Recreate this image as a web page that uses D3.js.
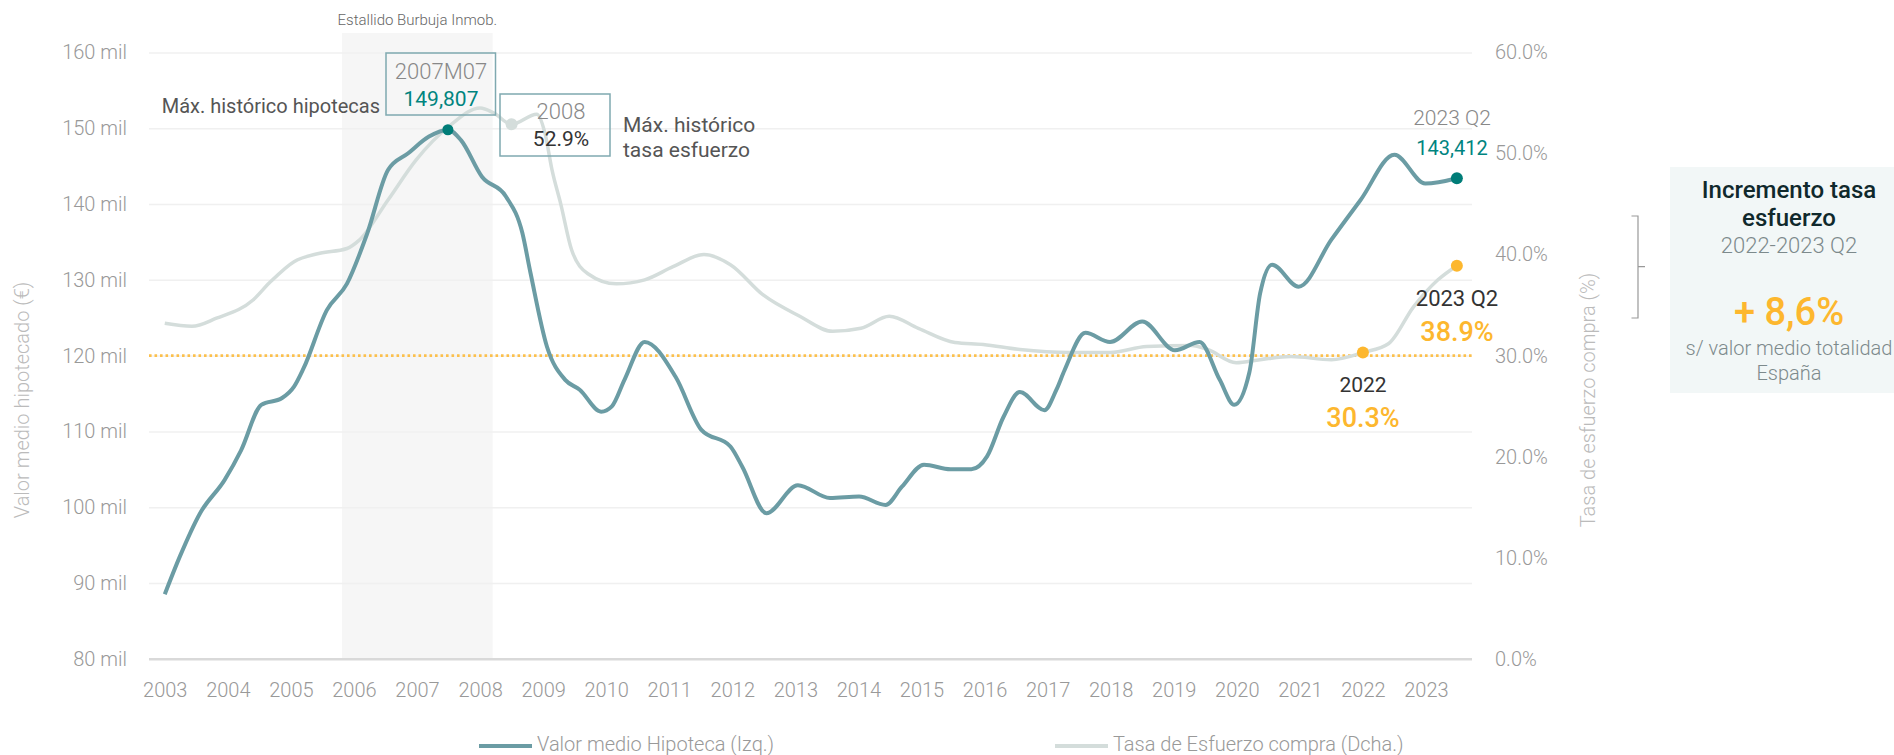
<!DOCTYPE html>
<html>
<head>
<meta charset="utf-8">
<script src="https://cdn.jsdelivr.net/npm/d3@7"></script>
<style>
body { margin: 0; background: #fff; }
text { font-family: Roboto, "DejaVu Sans", sans-serif; }
.light { font-weight: 300; }
</style>
</head>
<body>
<script>
// datos (anos decimales)
var anosHip = [2003.0, 2003.24, 2003.56, 2003.95, 2004.21, 2004.53, 2004.86, 2005.05, 2005.2, 2005.57,
  2005.89, 2006.21, 2006.54, 2006.86, 2007.19, 2007.49, 2007.7, 2008.03, 2008.41, 2008.67,
  2008.8, 2009.06, 2009.35, 2009.58, 2009.92, 2010.09, 2010.29, 2010.61, 2011.1, 2011.51,
  2011.97, 2012.16, 2012.54, 2013.04, 2013.55, 2014.01, 2014.43, 2014.69, 2015.04, 2015.46,
  2015.79, 2016.04, 2016.3, 2016.56, 2016.95, 2017.14, 2017.27, 2017.6, 2017.99, 2018.5,
  2019.02, 2019.41, 2019.73, 2019.96, 2020.2, 2020.37, 2020.56, 2020.98, 2021.5, 2021.96,
  2022.5, 2022.99, 2023.49]
var valorHipoteca = [88.5, 93.5, 99.2, 103.6, 107.5, 113.5, 114.4, 115.9, 118.3, 126.0,
  129.5, 136.1, 144.5, 146.7, 148.9, 149.807, 148.4, 143.6, 141.0, 136.2,
  130.9, 121.2, 116.8, 115.5, 112.6, 113.3, 116.8, 121.8, 117.2, 110.2,
  108.0, 105.3, 99.2, 102.9, 101.2, 101.4, 100.3, 102.7, 105.6, 105.0,
  105.0, 106.7, 111.9, 115.2, 112.8, 115.5, 118.1, 123.0, 121.8, 124.5,
  120.7, 121.8, 116.8, 113.5, 117.8, 128.2, 132.0, 129.1, 135.3, 140.5,
  146.5, 142.7, 143.412]

var anosTasa = [2003.0, 2003.43, 2003.82, 2004.4, 2004.66, 2005.05, 2005.44, 2005.89, 2006.08, 2006.54,
  2006.99, 2007.51, 2008.0, 2008.22, 2008.5, 2008.9, 2009.03, 2009.14, 2009.28, 2009.45, 2009.71,
  2010.16, 2010.61, 2011.06, 2011.55, 2011.97, 2012.49, 2013.07, 2013.59, 2014.04, 2014.49,
  2014.95, 2015.53, 2015.98, 2016.56, 2017.34, 2017.99, 2018.57, 2019.28, 2019.54, 2019.99,
  2020.37, 2020.86, 2021.5, 2022.0, 2022.41, 2022.8, 2023.19, 2023.49]
var tasaEsfuerzo = [33.2, 32.9, 33.7, 35.5, 37.2, 39.3, 40.1, 40.6, 41.4, 45.4,
  49.4, 52.7, 54.5, 54.0, 52.9, 53.9, 52.0, 48.4, 45.0, 40.5, 38.1,
  37.1, 37.5, 38.8, 40.0, 39.0, 36.0, 33.9, 32.4, 32.7, 33.9,
  32.7, 31.3, 31.1, 30.6, 30.3, 30.3, 30.9, 31.0, 30.6, 29.3,
  29.6, 29.9, 29.6, 30.3, 31.2, 34.8, 37.5, 38.9]

var anosEje = d3.range(2003, 2024)
var ticksIzq = [80, 90, 100, 110, 120, 130, 140, 150, 160]
var ticksDcha = [0, 10, 20, 30, 40, 50, 60]
var burbuja = [2005.81, 2008.2]
var lineaRef = 30
var incrementoTasa = 8.6

var teal = "#6b9ca4", gris = "#d4dddb", amarillo = "#fdb72e", tealOsc = "#007d78"

var svg = d3.select("body").append("svg")
  .attr("width", 1894).attr("height", 755)

var plotLeft = 149, plotRight = 1472, plotTop = 52.5, plotBottom = 658.7

var x = d3.scaleLinear().domain([2002.75, 2023.73]).range([plotLeft, plotRight])
var yIzq = d3.scaleLinear().domain([80, 160]).range([plotBottom, plotTop])
var yDcha = d3.scaleLinear().domain([0, 60]).range([plotBottom, plotTop])

// zona estallido burbuja
svg.append("rect")
  .attr("x", x(burbuja[0])).attr("y", 33)
  .attr("width", x(burbuja[1]) - x(burbuja[0])).attr("height", plotBottom - 33)
  .attr("fill", "#f6f6f6")
svg.append("text").attr("class", "light")
  .attr("x", (x(burbuja[0]) + x(burbuja[1])) / 2).attr("y", 20).attr("dy", "0.35em")
  .attr("text-anchor", "middle").attr("font-size", 15).attr("fill", "#666")
  .text("Estallido Burbuja Inmob.")

// eje izquierdo + rejilla
var gIzq = svg.append("g").attr("transform", "translate(" + plotLeft + ",0)")
  .call(d3.axisLeft(yIzq).tickValues(ticksIzq).tickSize(-(plotRight - plotLeft)).tickPadding(22)
    .tickFormat(function(d) { return d + " mil" }))
gIzq.select(".domain").remove()
gIzq.selectAll(".tick line")
  .attr("stroke", function(d) { return d == 80 ? "#d9d9d9" : "#f0f0f0" })
  .attr("stroke-width", function(d) { return d == 80 ? 2.5 : 1.5 })
gIzq.selectAll(".tick text").attr("class", "light")
  .attr("font-size", 20).attr("fill", "#999").attr("font-family", null)

// eje derecho
var gDcha = svg.append("g").attr("transform", "translate(" + plotRight + ",0)")
  .call(d3.axisRight(yDcha).tickValues(ticksDcha).tickSize(0).tickPadding(23)
    .tickFormat(function(d) { return d.toFixed(1) + "%" }))
gDcha.select(".domain").remove()
gDcha.selectAll(".tick text").attr("class", "light")
  .attr("font-size", 20).attr("fill", "#999").attr("font-family", null)

// eje x
var gX = svg.append("g").attr("transform", "translate(0," + plotBottom + ")")
  .call(d3.axisBottom(x).tickValues(anosEje).tickSize(0).tickPadding(24).tickFormat(d3.format("d")))
gX.select(".domain").remove()
gX.selectAll(".tick text").attr("class", "light")
  .attr("font-size", 20).attr("fill", "#999").attr("font-family", null)

// titulos de ejes
svg.append("text").attr("class", "light")
  .attr("transform", "translate(22,400) rotate(-90)").attr("dy", "0.35em")
  .attr("text-anchor", "middle").attr("font-size", 20).attr("fill", "#bbb")
  .text("Valor medio hipotecado (€)")
svg.append("text").attr("class", "light")
  .attr("transform", "translate(1588,400) rotate(-90)").attr("dy", "0.35em")
  .attr("text-anchor", "middle").attr("font-size", 20).attr("fill", "#bbb")
  .text("Tasa de esfuerzo compra (%)")

// linea de referencia punteada
svg.append("line")
  .attr("x1", plotLeft).attr("x2", plotRight)
  .attr("y1", yDcha(lineaRef)).attr("y2", yDcha(lineaRef))
  .attr("stroke", "#fcc04c").attr("stroke-width", 2.6).attr("stroke-dasharray", "2.6,2.9")

// series
var lineaTasa = d3.line()
  .x(function(d, i) { return x(anosTasa[i]) })
  .y(function(d) { return yDcha(d) })
  .curve(d3.curveMonotoneX)
var lineaHip = d3.line()
  .x(function(d, i) { return x(anosHip[i]) })
  .y(function(d) { return yIzq(d) })
  .curve(d3.curveMonotoneX)

svg.append("path").datum(tasaEsfuerzo)
  .attr("d", lineaTasa).attr("fill", "none").attr("stroke", gris).attr("stroke-width", 3.5)
svg.append("path").datum(valorHipoteca)
  .attr("d", lineaHip).attr("fill", "none").attr("stroke", teal).attr("stroke-width", 4)

// puntos destacados
var iMaxHip = valorHipoteca.indexOf(d3.max(valorHipoteca))
var iMaxTasa = anosTasa.indexOf(2008.5)
var iTasa2022 = anosTasa.indexOf(2022.0)
var nH = valorHipoteca.length - 1, nT = tasaEsfuerzo.length - 1

svg.append("circle").attr("cx", x(anosTasa[iMaxTasa])).attr("cy", yDcha(tasaEsfuerzo[iMaxTasa]))
  .attr("r", 6).attr("fill", gris)
svg.append("circle").attr("cx", x(anosHip[iMaxHip])).attr("cy", yIzq(valorHipoteca[iMaxHip]))
  .attr("r", 5.5).attr("fill", tealOsc)
svg.append("circle").attr("cx", x(anosHip[nH])).attr("cy", yIzq(valorHipoteca[nH]))
  .attr("r", 6).attr("fill", tealOsc)
svg.append("circle").attr("cx", x(anosTasa[iTasa2022])).attr("cy", yDcha(tasaEsfuerzo[iTasa2022]))
  .attr("r", 6).attr("fill", amarillo)
svg.append("circle").attr("cx", x(anosTasa[nT])).attr("cy", yDcha(tasaEsfuerzo[nT]))
  .attr("r", 6).attr("fill", amarillo)

function texto(xp, yp, t, size, color, anchor, weight) {
  return svg.append("text").attr("x", xp).attr("y", yp).attr("dy", "0.35em")
    .attr("text-anchor", anchor || "middle").attr("font-size", size)
    .attr("fill", color).attr("font-weight", weight || 400).text(t)
}

// anotacion maximo hipotecas
svg.append("rect").attr("x", 386).attr("y", 53).attr("width", 109.5).attr("height", 62)
  .attr("fill", "none").attr("stroke", "#7fa9b0").attr("stroke-width", 1.5)
texto(441, 71, "2007M07", 22, "#888", "middle", 300)
texto(441, 99, d3.format(",")(Math.round(valorHipoteca[iMaxHip] * 1000)), 21, "#00847f")
texto(380, 106, "Máx. histórico hipotecas", 20, "#555", "end")

// anotacion maximo tasa
svg.append("rect").attr("x", 500).attr("y", 94).attr("width", 110).attr("height", 62)
  .attr("fill", "none").attr("stroke", "#7fa9b0").attr("stroke-width", 1.5)
texto(561, 111, "2008", 22, "#888", "middle", 300)
texto(561, 139, tasaEsfuerzo[iMaxTasa].toFixed(1) + "%", 21, "#333")
texto(623, 125, "Máx. histórico", 21, "#555", "start")
texto(623, 150, "tasa esfuerzo", 21, "#555", "start")

// anotaciones finales
texto(1452, 118, "2023 Q2", 21, "#888", "middle", 300)
texto(1452, 148, d3.format(",")(Math.round(valorHipoteca[nH] * 1000)), 20, "#00847f")
texto(1457, 298, "2023 Q2", 22, "#333")
texto(1457, 332, tasaEsfuerzo[nT].toFixed(1) + "%", 27, amarillo, "middle", 500)
texto(1363, 385, "2022", 21, "#333")
texto(1363, 418, tasaEsfuerzo[iTasa2022].toFixed(1) + "%", 27, amarillo, "middle", 500)

// llave
svg.append("path")
  .attr("d", "M1631.5,216H1638V318H1631.5M1638,266.7H1645")
  .attr("fill", "none").attr("stroke", "#999").attr("stroke-width", 1.2)

// panel derecho
svg.append("rect").attr("x", 1670).attr("y", 167).attr("width", 224).attr("height", 226)
  .attr("fill", "#f2f7f7")
texto(1789, 190, "Incremento tasa", 24, "#10292c", "middle", 500)
texto(1789, 218, "esfuerzo", 24, "#10292c", "middle", 500)
texto(1789, 245, "2022-2023 Q2", 22, "#7d8a8c", "middle", 300)
texto(1789, 312, "+ " + incrementoTasa.toFixed(1).replace(".", ",") + "%", 38, amarillo, "middle", 500)
texto(1789, 348, "s/ valor medio totalidad", 20, "#7d8a8c", "middle", 300)
texto(1789, 373, "España", 20, "#7d8a8c", "middle", 300)

// leyenda
var leyenda = [
  {nombre: "Valor medio Hipoteca (Izq.)", color: teal, x: 479},
  {nombre: "Tasa de Esfuerzo compra (Dcha.)", color: gris, x: 1055}
]
leyenda.forEach(function(l) {
  svg.append("line").attr("x1", l.x).attr("x2", l.x + 53).attr("y1", 746).attr("y2", 746)
    .attr("stroke", l.color).attr("stroke-width", 4)
  svg.append("text").attr("class", "light").attr("x", l.x + 58).attr("y", 751)
    .attr("font-size", 20).attr("fill", "#999").text(l.nombre)
})
</script>
</body>
</html>
